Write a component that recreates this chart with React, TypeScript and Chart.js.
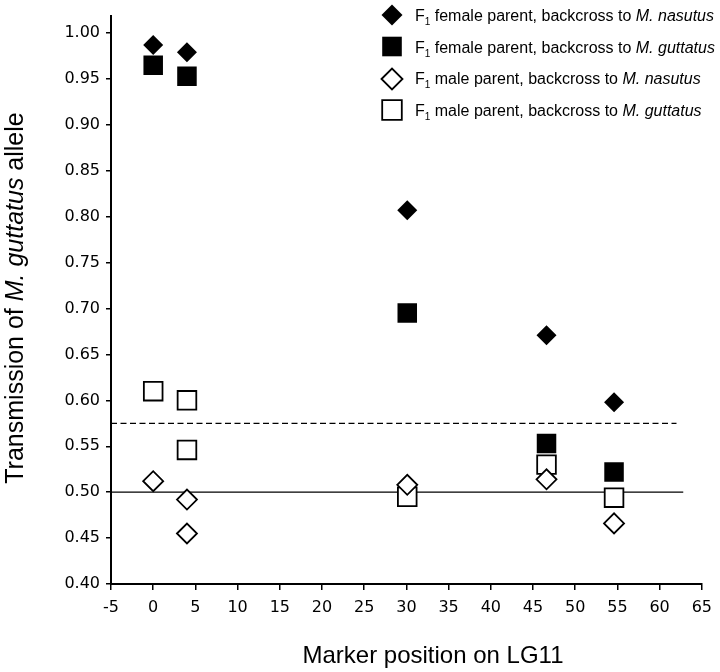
import React, { useEffect, useRef } from "react";
import { Chart, registerables } from "chart.js";

Chart.register(...registerables);

// ---- data ----
const femaleNasutusX = [0, 4.0, 30.1, 46.6, 54.6];
const femaleNasutusY = [0.987, 0.979, 0.807, 0.671, 0.598];
const femaleGuttatusX = [0, 4.0, 30.1, 46.6, 54.6];
const femaleGuttatusY = [0.965, 0.953, 0.695, 0.553, 0.522];
const maleNasutusX = [0, 4.0, 4.0, 30.1, 46.6, 54.6];
const maleNasutusY = [0.512, 0.492, 0.455, 0.508, 0.514, 0.466];
const maleGuttatusX = [0, 4.0, 4.0, 30.1, 46.6, 54.6];
const maleGuttatusY = [0.61, 0.6, 0.546, 0.495, 0.53, 0.494];
const expectedLineX = [-5, 62.8];
const expectedLineY = [0.5, 0.5];
const thresholdLineX = [-5, 62.0];
const thresholdLineY = [0.575, 0.575];
const xTicks = [-5, 0, 5, 10, 15, 20, 25, 30, 35, 40, 45, 50, 55, 60, 65];
const yTicks = [0.4, 0.45, 0.5, 0.55, 0.6, 0.65, 0.7, 0.75, 0.8, 0.85, 0.9, 0.95, 1.0];

const legendLabels = [
  { pre: " female parent, backcross to ", species: "M. nasutus" },
  { pre: " female parent, backcross to ", species: "M. guttatus" },
  { pre: " male parent, backcross to ", species: "M. nasutus" },
  { pre: " male parent, backcross to ", species: "M. guttatus" },
];
const xTitle = "Marker position on LG11";
const yTitleParts = ["Transmission of ", "M. guttatus", " allele"];

const pts = (xs: number[], ys: number[]) => xs.map((x, i) => ({ x, y: ys[i] }));

const SANS = '"Liberation Sans", Arial, sans-serif';

const textPlugin = {
  id: "customText",
  afterDraw(chart: any) {
    const ctx = chart.ctx as CanvasRenderingContext2D;
    ctx.save();
    ctx.fillStyle = "#000";
    ctx.strokeStyle = "#000";

    // legend
    const mx = 392;
    const rows = [15, 46.5, 79, 110];
    const baselines = [21, 52.5, 84, 115.5];
    rows.forEach((cy, i) => {
      ctx.beginPath();
      if (i === 0 || i === 2) {
        const r = 10.5;
        ctx.moveTo(mx - r, cy);
        ctx.lineTo(mx, cy - r);
        ctx.lineTo(mx + r, cy);
        ctx.lineTo(mx, cy + r);
        ctx.closePath();
      } else {
        const h = 9.8;
        ctx.rect(mx - h, cy - h, 2 * h, 2 * h);
      }
      if (i < 2) {
        ctx.fillStyle = "#000";
        ctx.fill();
      } else {
        ctx.fillStyle = "#fff";
        ctx.fill();
        ctx.lineWidth = 1.8;
        ctx.stroke();
      }
      ctx.fillStyle = "#000";
      let x = 415;
      const by = baselines[i];
      ctx.textAlign = "left";
      ctx.textBaseline = "alphabetic";
      ctx.font = `16px ${SANS}`;
      ctx.fillText("F", x, by);
      x += ctx.measureText("F").width;
      ctx.font = `10px ${SANS}`;
      ctx.fillText("1", x, by + 4);
      x += ctx.measureText("1").width;
      ctx.font = `16px ${SANS}`;
      ctx.fillText(legendLabels[i].pre, x, by);
      x += ctx.measureText(legendLabels[i].pre).width;
      ctx.font = `italic 16px ${SANS}`;
      ctx.fillText(legendLabels[i].species, x, by);
    });

    // x title
    ctx.font = `24px ${SANS}`;
    ctx.textAlign = "center";
    ctx.textBaseline = "alphabetic";
    ctx.fillText(xTitle, 433, 663);

    // y title (rotated, mixed italic)
    const fonts = [`25px ${SANS}`, `italic 25px ${SANS}`, `25px ${SANS}`];
    const widths = yTitleParts.map((p, i) => {
      ctx.font = fonts[i];
      return ctx.measureText(p).width;
    });
    const total = widths.reduce((a, b) => a + b, 0);
    ctx.translate(23, 298);
    ctx.rotate(-Math.PI / 2);
    ctx.textAlign = "left";
    let tx = -total / 2;
    yTitleParts.forEach((p, i) => {
      ctx.font = fonts[i];
      ctx.fillText(p, tx, 0);
      tx += widths[i];
    });
    ctx.restore();
  },
};

export default function App() {
  const ref = useRef<HTMLCanvasElement | null>(null);
  useEffect(() => {
    if (!ref.current) return;
    const tickFont = { family: '"DejaVu Sans", Verdana, sans-serif', size: 16 };
    const chart = new Chart(ref.current, {
      type: "scatter",
      data: {
        datasets: [
          {
            label: "F1 female parent, backcross to M. nasutus",
            data: pts(femaleNasutusX, femaleNasutusY),
            pointStyle: "rectRot",
            pointRadius: 10,
            backgroundColor: "#000",
            borderColor: "#000",
            borderWidth: 0,
          },
          {
            label: "F1 female parent, backcross to M. guttatus",
            data: pts(femaleGuttatusX, femaleGuttatusY),
            pointStyle: "rect",
            pointRadius: 13.8,
            backgroundColor: "#000",
            borderColor: "#000",
            borderWidth: 0,
          },
          {
            label: "F1 male parent, backcross to M. nasutus",
            data: pts(maleNasutusX, maleNasutusY),
            pointStyle: "rectRot",
            pointRadius: 10,
            backgroundColor: "#fff",
            borderColor: "#000",
            borderWidth: 1.8,
          },
          {
            label: "F1 male parent, backcross to M. guttatus",
            data: pts(maleGuttatusX, maleGuttatusY),
            pointStyle: "rect",
            pointRadius: 13.2,
            backgroundColor: "#fff",
            borderColor: "#000",
            borderWidth: 1.8,
          },
          {
            label: "threshold",
            data: pts(thresholdLineX, thresholdLineY),
            showLine: true,
            pointRadius: 0,
            borderColor: "#000",
            borderWidth: 1.3,
            borderDash: [6, 3.5],
          },
          {
            label: "expected",
            data: pts(expectedLineX, expectedLineY),
            showLine: true,
            pointRadius: 0,
            borderColor: "#000",
            borderWidth: 1.3,
          },
        ],
      },
      options: {
        animation: false,
        responsive: false,
        maintainAspectRatio: false,
        events: [],
        layout: { padding: { top: 12, right: 13, bottom: 0, left: 0 } },
        plugins: { legend: { display: false }, tooltip: { enabled: false } },
        scales: {
          x: {
            type: "linear",
            min: -5,
            max: 65,
            afterFit: (s: any) => {
              s.height = 88;
            },
            afterBuildTicks: (s: any) => {
              s.ticks = xTicks.map((v) => ({ value: v }));
            },
            ticks: { font: tickFont, color: "#000", padding: 8, maxRotation: 0, callback: (v: any) => String(v) },
            grid: { display: true, drawOnChartArea: false, drawTicks: true, tickLength: 6, color: "#000", lineWidth: 1.5 },
            border: { display: true, color: "#000", width: 2 },
          },
          y: {
            type: "linear",
            min: 0.4,
            max: 1.019,
            afterFit: (s: any) => {
              s.width = 111;
            },
            afterBuildTicks: (s: any) => {
              s.ticks = yTicks.map((v) => ({ value: v }));
            },
            ticks: { font: tickFont, color: "#000", padding: 6, callback: (v: any) => Number(v).toFixed(2) },
            grid: { display: true, drawOnChartArea: false, drawTicks: true, tickLength: 5, color: "#000", lineWidth: 1.5 },
            border: { display: true, color: "#000", width: 2 },
          },
        },
      },
      plugins: [textPlugin],
    } as any);
    return () => chart.destroy();
  }, []);
  return (
    <div style={{ position: "absolute", left: 0, top: 0, width: 720, height: 672, background: "#fff" }}>
      <canvas ref={ref} width={720} height={672} style={{ display: "block" }} />
    </div>
  );
}
